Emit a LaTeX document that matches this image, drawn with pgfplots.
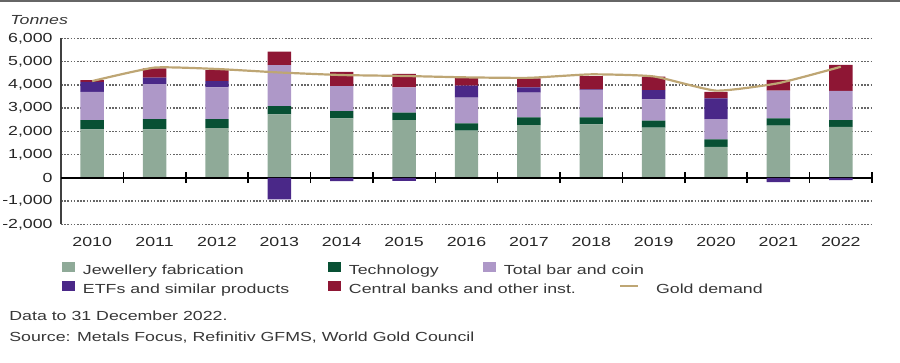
\documentclass[border=0pt]{standalone}
\usepackage{pgfplots}
\pgfplotsset{compat=1.18}
\usepackage{fontspec}
\setmainfont[FakeStretch=1.35]{Liberation Sans}
\definecolor{jew}{RGB}{143,170,152}
\definecolor{tech}{RGB}{8,80,52}
\definecolor{barc}{RGB}{174,152,200}
\definecolor{etf}{RGB}{74,40,136}
\definecolor{cb}{RGB}{142,22,52}
\definecolor{gold}{RGB}{190,166,116}
\definecolor{txt}{RGB}{55,55,55}
\newcommand\sz{\fontsize{6.6}{8}\selectfont}
\pgfplotsset{
  base/.style={scale only axis, width=405.5bp, height=93bp,
    at={(30.5bp,69.35bp)}, anchor=south west,
    xmin=-0.5, xmax=12.5, ymin=-2000, ymax=6000, clip=false},
  sq/.style={legend image code/.code={\fill[##1] (0bp,-0.5bp) rectangle (6.5bp,4.5bp);}},
  lineleg/.style={legend image code/.code={\draw[##1] (0bp,2bp) -- (9bp,2bp); \path[draw=none,fill=none] (14bp,2bp) circle (0pt);}},
  leg/.style={legend columns=3, legend cell align=left,
    legend style={at={(0.0012,#1)}, anchor=west, draw=none, fill=none,
      inner sep=0pt, outer sep=0pt, font=\sz, text=txt,
      nodes={inner sep=0pt},
      /tikz/every odd column/.style={column sep=4bp}}}
}
\begin{document}
\begin{tikzpicture}
\useasboundingbox (0bp,0bp) rectangle (450bp,181.5bp);
\draw[black!60, line width=1bp] (0bp,181bp) -- (450bp,181bp);
\begin{axis}[base,
  ybar stacked, bar width=0.375,
  axis x line=bottom, axis y line=left, axis line style={-},
  x axis line style={draw=none},
  y axis line style={black!75, line width=1bp},
  ytick={-2000,-1000,...,6000},
  ymajorgrids, grid style={black!60, line width=0.7bp, dash pattern=on 0.8bp off 0.8bp},
  major tick length=0pt,
  xtick={0,...,12},
  xticklabels={2010,2011,2012,2013,2014,2015,2016,2017,2018,2019,2020,2021,2022},
  tick label style={font=\sz, text=black!85},
  /pgf/number format/assume math mode=true,
  /pgf/number format/1000 sep={,},
  yticklabel style={inner sep=0pt, xshift=-4bp},
  xticklabel style={inner sep=0pt, anchor=center, yshift=-8.85bp},
  leg=-0.2457]
\addplot[fill=jew, draw=none, sq] coordinates {(0,2080) (1,2080) (2,2140) (3,2730) (4,2555) (5,2485) (6,2025) (7,2270) (8,2295) (9,2155) (10,1335) (11,2240) (12,2195)};
\addlegendentry{\makebox[122.5bp][l]{Jewellery fabrication}}
\addplot[fill=tech, draw=none, sq] coordinates {(0,400) (1,445) (2,385) (3,355) (4,315) (5,315) (6,315) (7,330) (8,300) (9,300) (10,315) (11,315) (12,290)};
\addlegendentry{\makebox[67bp][l]{Technology}}
\addplot[fill=barc, draw=none, sq] coordinates {(0,1220) (1,1505) (2,1365) (3,1765) (4,1075) (5,1090) (6,1105) (7,1060) (8,1175) (9,920) (10,875) (11,1190) (12,1250)};
\addlegendentry{Total bar and coin}
\addplot[fill=etf, draw=none, forget plot] coordinates {(0,430) (1,275) (2,270) (3,0) (4,0) (5,0) (6,515) (7,230) (8,30) (9,400) (10,890) (11,0) (12,0)};
\addplot[fill=cb, draw=none, forget plot] coordinates {(0,75) (1,400) (2,475) (3,575) (4,615) (5,575) (6,360) (7,385) (8,575) (9,578) (10,285) (11,465) (12,1125)};
\end{axis}
\begin{axis}[base,
  axis x line=middle, axis y line=none,
  axis line style={-, black, line width=1bp},
  xtick={0.5,1.5,...,12.5}, xticklabels={},
  major tick length=5.3bp, tick align=center,
  x tick style={black, line width=0.8bp},
  ytick=\empty,
  leg=-0.3478]
\addplot[ybar, bar width=0.375, fill=etf, draw=none, sq] coordinates {(3,-930) (4,-145) (5,-130) (11,-185) (12,-100)};
\addlegendentry{\makebox[122.5bp][l]{ETFs and similar products}}
\addlegendimage{fill=cb, draw=none, sq}
\addlegendentry{\makebox[135bp][l]{Central banks and other inst.}}
\addplot[gold, line width=1.1bp, smooth, tension=0.3, lineleg]
  coordinates {(0,4160) (1,4740) (2,4680) (3,4530) (4,4420) (5,4380) (6,4320) (7,4300) (8,4450) (9,4360) (10,3750) (11,4070) (12,4775)};
\addlegendentry{Gold demand}
\end{axis}
\node[anchor=west, font=\sz\itshape, text=txt, inner sep=0pt] at (5bp,171.5bp) {Tonnes};
\node[anchor=west, font=\sz, text=txt, inner sep=0pt] at (4.5bp,23.5bp) {Data to 31 December 2022.};
\node[anchor=west, font=\sz, text=txt, inner sep=0pt] at (4.5bp,12.5bp) {Source: Metals Focus, Refinitiv GFMS, World Gold Council};
\end{tikzpicture}
\end{document}
